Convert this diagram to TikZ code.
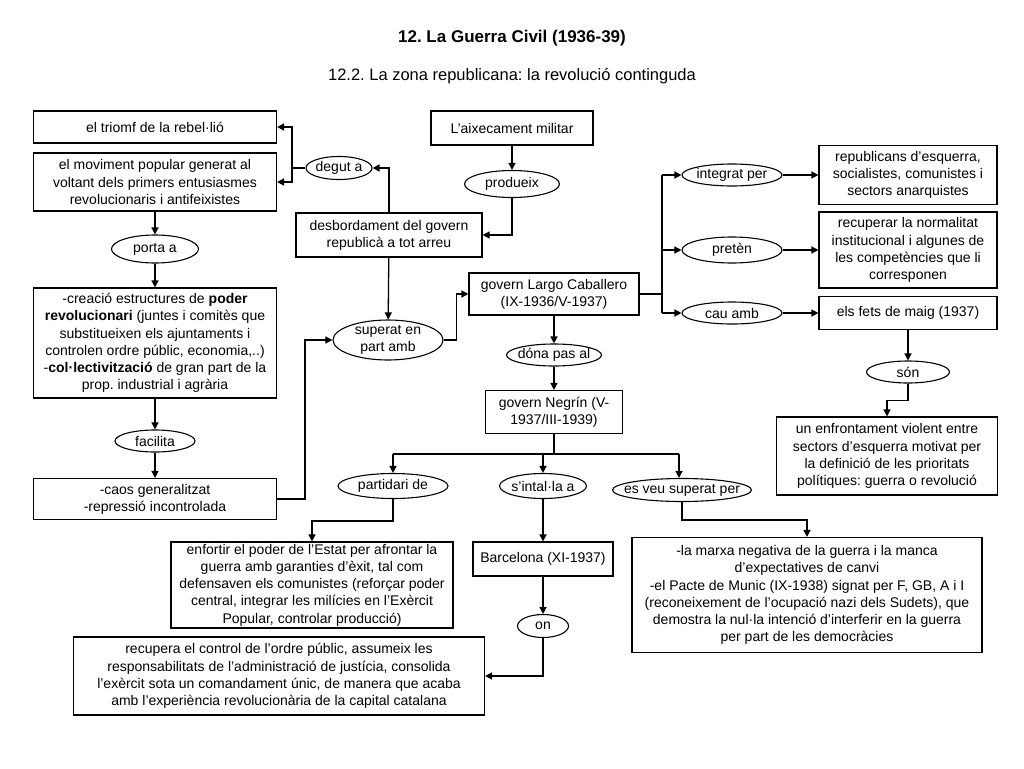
\documentclass[tikz,border=0pt]{standalone}
\usepackage{fontspec}
\setmainfont{Liberation Sans}
\usetikzlibrary{arrows.meta,shapes.geometric}
\frenchspacing

\begin{document}
\begin{tikzpicture}[x=1pt,y=-1pt,
		font=\fontsize{14}{17.2}\selectfont,
		box/.style={draw,line width=1.1pt,align=center,inner sep=0pt},
		rel/.style={draw,ellipse,line width=1.1pt,inner xsep=-80pt,inner ysep=-30pt},
		link/.style={line width=1.3pt},
		>={Triangle[length=7pt,width=7pt]}]
		\fill[white] (0,0) rectangle (1024,768);
		\useasboundingbox (0,0) rectangle (1024,768);
		\node (title) at (512,38) {\fontsize{17}{20}\selectfont\bfseries 12. La Guerra Civil (1936-39)};
		\node (subtitle) at (512,76) {\fontsize{16.5}{20}\selectfont 12.2. La zona republicana: la revolució continguda};
		% columna esquerra
		\node[box,minimum width=243,minimum height=32] (triomf) at (155,127) {el triomf de la rebel·lió};
		\node[box,minimum width=243,minimum height=58] (moviment) at (155,182) {el moviment popular generat al\\voltant dels primers entusiasmes\\revolucionaris i antifeixistes};
		\node[rel,minimum width=87,minimum height=28] (porta) at (155,249) {porta a};
		\node[box,minimum width=243,minimum height=110] (creacio) at (155,343) {-creació estructures de \textbf{poder}\\\textbf{revolucionari} (juntes i comitès que\\substitueixen els ajuntaments i\\controlen ordre públic, economia,..)\\-\textbf{col·lectivització} de gran part de la\\prop. industrial i agrària};
		\node[rel,minimum width=80,minimum height=22] (facilita) at (155,441) {facilita};
		\node[box,minimum width=243,minimum height=41] (caos) at (155,499) {-caos generalitzat\\-repressió incontrolada};
		% centre
		\node[rel,minimum width=66,minimum height=23] (degut) at (339,168) {degut a};
		\node[box,minimum width=186,minimum height=44] (desb) at (389,235) {desbordament del govern\\republicà a tot arreu};
		\node[box,minimum width=162,minimum height=34] (aixec) at (512,128) {L’aixecament militar};
		\node[rel,minimum width=95,minimum height=27] (produeix) at (512,184) {produeix};
		\node[rel,align=center,minimum width=110,minimum height=40] (superat) at (388,340) {superat en\\part amb};
		\node[box,minimum width=170,minimum height=42] (largo) at (554,294) {govern Largo Caballero\\(IX-1936/V-1937)};
		\node[rel,minimum width=95,minimum height=22] (dona) at (554,355) {dóna pas al};
		\node[box,minimum width=137,minimum height=43] (negrin) at (554,412) {govern Negrín (V-\\1937/III-1939)};
		\node[rel,minimum width=110,minimum height=25] (partidari) at (393,486) {partidari de};
		\node[rel,minimum width=87,minimum height=25] (intalla) at (543,486) {s’intal·la a};
		\node[rel,minimum width=139,minimum height=23] (esveu) at (682,490) {es veu superat per};
		\node[box,minimum width=282,minimum height=86] (enfortir) at (312,585) {enfortir el poder de l’Estat per afrontar la\\guerra amb garanties d’èxit, tal com\\defensaven els comunistes (reforçar poder\\central, integrar les milícies en l’Exèrcit\\Popular, controlar producció)};
		\node[box,minimum width=140,minimum height=34] (barcelona) at (543,559) {Barcelona (XI-1937)};
		\node[rel,minimum width=51,minimum height=23] (on) at (543,626) {on};
		\node[box,minimum width=411,minimum height=78] (recupera) at (279,676) {recupera el control de l’ordre públic, assumeix les\\responsabilitats de l’administració de justícia, consolida\\l’exèrcit sota un comandament únic, de manera que acaba\\amb l’experiència revolucionària de la capital catalana};
		\node[box,minimum width=350,minimum height=115] (marxa) at (807,595) {-la marxa negativa de la guerra i la manca\\d’expectatives de canvi\\-el Pacte de Munic (IX-1938) signat per F, GB, A i I\\(reconeixement de l’ocupació nazi dels Sudets), que\\demostra la nul·la intenció d’interferir en la guerra\\per part de les democràcies};
		% columna dreta
		\node[rel,minimum width=100,minimum height=22] (integrat) at (732,175) {integrat per};
		\node[rel,minimum width=100,minimum height=26] (preten) at (732,250) {pretèn};
		\node[rel,minimum width=100,minimum height=22] (cau) at (732,313) {cau amb};
		\node[box,minimum width=178,minimum height=59] (republicans) at (908,175) {republicans d’esquerra,\\socialistes, comunistes i\\sectors anarquistes};
		\node[box,minimum width=178,minimum height=76] (recuperar) at (908,250) {recuperar la normalitat\\institucional i algunes de\\les competències que li\\corresponen};
		\node[box,minimum width=178,minimum height=33] (fets) at (908,313) {els fets de maig (1937)};
		\node[rel,minimum width=83,minimum height=22] (son) at (908,372) {són};
		\node[box,minimum width=221,minimum height=78] (enfront) at (887,456) {un enfrontament violent entre\\sectors d’esquerra motivat per\\la definició de les prioritats\\polítiques: guerra o revolució};
		% connectors
		\coordinate (dg) at (292,168);
		\draw[link] (degut.west) -- (dg);
		\draw[link,->] (dg) |- (triomf.east);
		\draw[link,->] (dg) |- (moviment.east);
		\draw[link,->] (moviment) -- (porta);
		\draw[link,->] (porta) -- (creacio);
		\draw[link,->] (creacio) -- (facilita);
		\draw[link,->] (facilita) -- (caos);
		\draw[link,->] (desb.north) |- (degut.east);
		\draw[link,->] (aixec) -- (produeix);
		\draw[link,->] (produeix.south) |- (desb.east);
		\draw[link,->] (desb) -- (superat);
		\draw[link,->] (caos.east) -- ++(28,0) |- (superat.west);
		\draw[link,->] (superat.east) -- ++(13,0) |- (largo.west);
		\draw[link,->] (largo) -- (dona);
		\draw[link,->] (dona) -- (negrin);
		\draw[link] (negrin.south) -- ++(0,20) coordinate (nb);
		\draw[link] (partidari.north |- nb) -- (679,0 |- nb);
		\draw[link,->] (partidari.north |- nb) -- (partidari.north);
		\draw[link,->] (intalla.north |- nb) -- (intalla.north);
		\draw[link,->] (679,0 |- nb) -- (679,0 |- esveu.north);
		\draw[link,->] (partidari.south) -- ++(0,22) -| (enfortir.north);
		\draw[link,->] (intalla) -- (barcelona);
		\draw[link,->] (barcelona) -- (on);
		\draw[link,->] (on.south) |- (recupera.east);
		\draw[link,->] (esveu.south) -- ++(0,18) -| (marxa.north);
		\coordinate (lc) at (662,294);
		\draw[link] (largo.east) -- (lc);
		\draw[link] (lc |- integrat.west) -- (lc |- cau.west);
		\draw[link,->] (lc |- integrat.west) -- (integrat.west);
		\draw[link,->] (lc |- preten.west) -- (preten.west);
		\draw[link,->] (lc |- cau.west) -- (cau.west);
		\draw[link,->] (integrat) -- (republicans);
		\draw[link,->] (preten) -- (recuperar);
		\draw[link,->] (cau) -- (fets);
		\draw[link,->] (fets) -- (son);
		\draw[link,->] (son.south) -- ++(0,17) -| (enfront.north);
	\end{tikzpicture}
\end{document}
